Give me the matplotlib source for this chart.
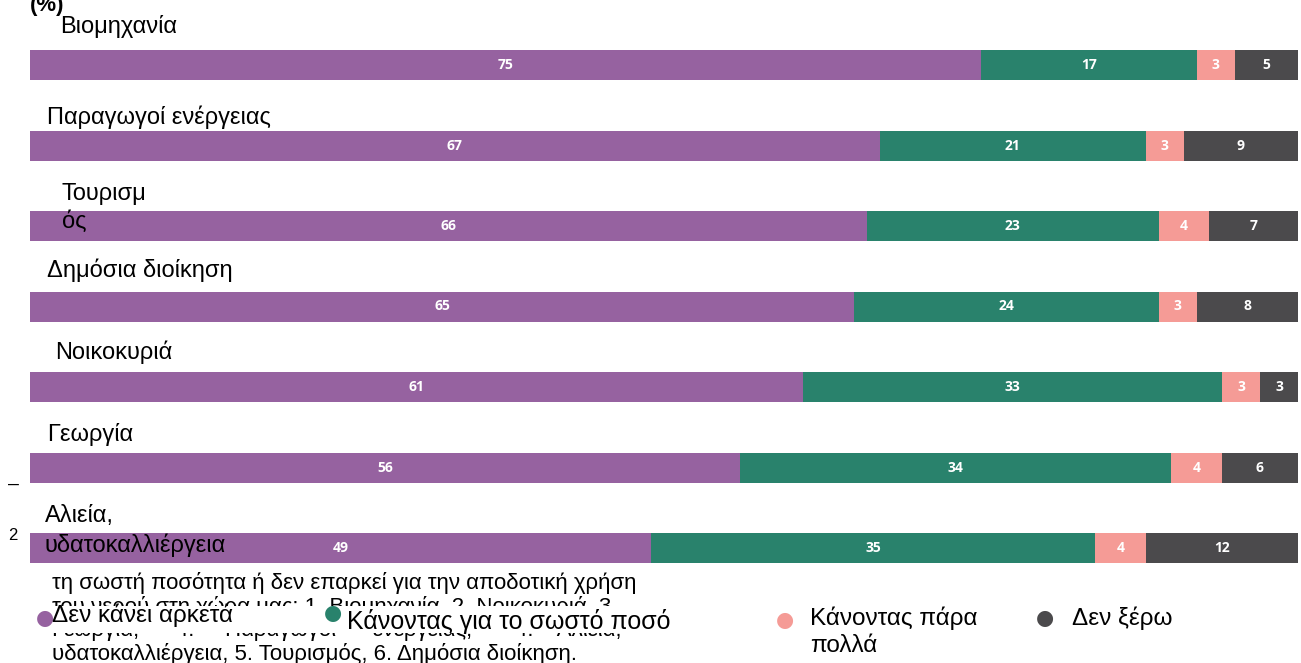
import matplotlib.pyplot as plt
from matplotlib.patches import Rectangle
import numpy as np

categories = ["Βιομηχανία", "Παραγωγοί ενέργειας", "Τουρισμ\nός", "Δημόσια διοίκηση",
              "Νοικοκυριά", "Γεωργία", "Αλιεία,\nυδατοκαλλιέργεια"]
not_enough = [75, 67, 66, 65, 61, 56, 49]
right_amount = [17, 21, 23, 24, 33, 34, 35]
too_much = [3, 3, 4, 3, 3, 4, 4]
dont_know = [5, 9, 7, 8, 3, 6, 12]
series_names = ["Δεν κάνει αρκετά", "Κάνοντας για το σωστό ποσό", "Κάνοντας πάρα\nπολλά", "Δεν ξέρω"]
colors = ["#9662a0", "#29826c", "#f59b96", "#4b4a4c"]

plt.rcParams['font.family'] = ['Liberation Sans', 'DejaVu Sans']

W, H = 1301, 663
fig = plt.figure(figsize=(W / 100, H / 100), dpi=100)
ax = fig.add_axes([30 / W, 0, 1268 / W, 1])
ax.set_xlim(0, 100)
ax.set_ylim((H - 65) / 80.5, -65 / 80.5)
ax.axis('off')

y = np.arange(len(categories))
left = np.zeros(len(categories))
for vals, col in zip([not_enough, right_amount, too_much, dont_know], colors):
    vals = np.array(vals)
    ax.barh(y, vals, left=left, height=30 / 80.5, color=col, edgecolor='none')
    for yi, l, v in zip(y, left, vals):
        ax.text(l + v / 2, yi, str(v), ha='center', va='center', color='white',
                fontsize=10, fontweight='bold', family=['Open Sans', 'DejaVu Sans'])
    left += vals

def px(x, yy):
    return x / W, 1 - yy / H

# category labels (placed a bit irregularly, as in the original)
label_pos = [(60, 27), (47, 117), (62, 208), (47, 270), (55, 352), (47, 435), (45, 531)]
spacing = [1.2, 1.2, 1.27, 1.2, 1.2, 1.2, 1.35]
for name, (lx, ly), ls in zip(categories, label_pos, spacing):
    fig.text(*px(lx, ly), name, fontsize=17, ha='left', va='center', linespacing=ls)

fig.text(*px(30, 6), "(%)", fontsize=16, fontweight='bold', ha='left', va='center')
fig.text(*px(8, 484), "–", fontsize=14, ha='left', va='center')
fig.text(*px(8, 535), "2", fontsize=12, ha='left', va='center')

note = ("τη σωστή ποσότητα ή δεν επαρκεί για την αποδοτική χρήση\n"
        "του νερού στη χώρα μας: 1. Βιομηχανία, 2. Νοικοκυριά, 3.\n"
        "Γεωργία,      4.     Παραγωγοί      ενέργειας,       4.    Αλιεία,\n"
        "υδατοκαλλιέργεια, 5. Τουρισμός, 6. Δημόσια διοίκηση.")
fig.text(*px(52, 572), note, fontsize=16, ha='left', va='top', linespacing=1.1, zorder=2)

# white strip the legend sits on, hiding part of the note
fig.add_artist(Rectangle(px(40, 633), 670 / W, 27 / H, transform=fig.transFigure,
                         facecolor='white', edgecolor='none', zorder=3.5))

legend_pos = [(45, 618, 52, 615, 17.5), (333, 613, 347, 622, 18),
              (785, 620, 810, 632, 17.5), (1045, 618, 1072, 618, 17.5)]
for name, col, (mx, my, tx, ty, fs) in zip(series_names, colors, legend_pos):
    fig.text(*px(mx, my), "●", color=col, fontsize=15, ha='center', va='center', zorder=4,
             family='DejaVu Sans')
    fig.text(*px(tx, ty), name, fontsize=fs, ha='left', va='center', zorder=4, linespacing=1.3)

fig.savefig('out.png', dpi=100)
